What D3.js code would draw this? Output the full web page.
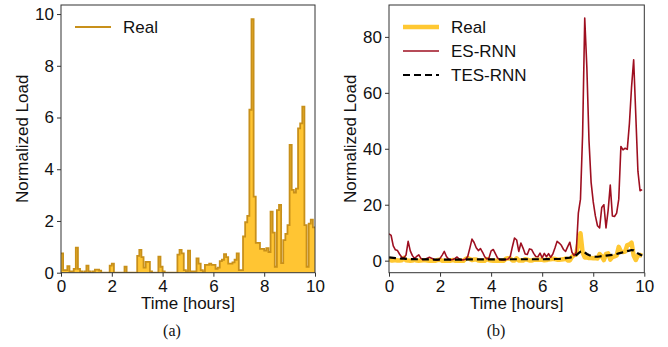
<!DOCTYPE html>
<html>
<head>
<meta charset="utf-8">
<script src="https://cdn.jsdelivr.net/npm/d3@7"></script>
<style>
  body { margin: 0; background: #fff; }
  svg { display: block; }
  .tick text { font-family: "Liberation Sans", Arial, sans-serif; font-size: 17px; fill: #111; }
  .lbl { font-family: "Liberation Sans", Arial, sans-serif; font-size: 17px; fill: #111; }
  .cap { font-family: "Liberation Serif", "Times New Roman", serif; font-size: 16px; fill: #111; }
</style>
</head>
<body>
<svg id="chart" width="668" height="347"></svg>
<script>
const W = 668, H = 347;

// 5-minute samples over 10 hours (index k -> k/12 h)
const REAL = [
  0.75, 0.1, 0.1, 0.25, 0.05, 0.05, 0.15, 0.97, 0.15, 0.05,
  0, 0.05, 0.27, 0.05, 0, 0.05, 0.12, 0.12, 0.08, 0,
  0, 0, 0, 0.27, 0.35, 0, 0, 0, 0, 0,
  0.23, 0, 0, 0, 0, 0, 0.65, 0.88, 0.6, 0.2,
  0.42, 0.42, 0.05, 0, 0, 0, 0.62, 0.23, 0.05, 0,
  0, 0, 0, 0, 0, 0.7, 0.88, 0.75, 0.1, 0.05,
  0.85, 0.05, 0.05, 0.05, 0.55, 0.35, 0.1, 0.05, 0.3, 0.3,
  0.35, 0.3, 0.3, 0.15, 0.2, 0.45, 0.5, 0.72, 0.6, 0.35,
  0.35, 0.4, 0.5, 0.75, 0.1, 0.1, 1.4, 1.95, 2.2, 6.3,
  9.8, 2.94, 1.15, 1.15, 0.92, 0.92, 0.85, 0.95, 0.8, 2.36,
  1.55, 0.23, 2.42, 2.62, 0.37, 1.26, 1.5, 1.84, 4.94, 3.2,
  3.1, 3.25, 5.58, 5.77, 6.42, 1.84, 0.23, 1.9, 2.05, 1.75
];

const ES_RNN = [
  9.6, 9.0, 5.3, 3.9, 3.6, 2.3, 1.2, 1.0, 2.0, 6.9,
  3.5, 1.8, 0.8, 1.5, 2.1, 0.8, 0.3, 0.5, 0.9, 1.2,
  0.9, 0.5, 0.2, 0.3, 0.8, 2.0, 3.3, 1.5, 0.6, 0.3,
  0.4, 0.8, 1.3, 0.6, 0.3, 0.3, 0.5, 1.5, 4.5, 7.7,
  6.5, 4.6, 3.6, 4.3, 3.0, 1.4, 0.6, 1.0, 3.5, 4.0,
  2.5, 1.0, 0.4, 0.3, 0.3, 0.4, 0.6, 1.5, 5.0, 8.1,
  7.4, 3.3, 6.3, 4.5, 2.4, 2.2, 4.2, 4.0, 2.6, 1.5,
  1.4, 2.7, 1.0, 2.6, 1.4, 2.5, 1.2, 2.4, 4.5, 6.9,
  6.3, 5.5, 4.0, 3.3, 5.0, 6.6, 3.0, 1.8, 3.0, 17,
  22, 45, 86.7, 69, 43, 28, 21, 16, 12.5, 11.7,
  19, 20, 11.7, 18, 27, 16, 15.8, 17, 22, 40.8,
  39.6, 40.2, 39.8, 49, 62, 71.8, 52, 32, 25, 25.4
];

const TES_RNN = [
  1.2, 1.1, 1.0, 0.9, 0.8, 0.8, 0.7, 0.7, 0.65, 0.6,
  0.6, 0.55, 0.55, 0.5, 0.5, 0.5, 0.5, 0.45, 0.45, 0.45,
  0.45, 0.4, 0.4, 0.4, 0.4, 0.4, 0.4, 0.4, 0.4, 0.4,
  0.4, 0.4, 0.4, 0.4, 0.4, 0.4, 0.4, 0.45, 0.45, 0.45,
  0.45, 0.45, 0.45, 0.45, 0.45, 0.45, 0.45, 0.45, 0.45, 0.45,
  0.45, 0.45, 0.45, 0.45, 0.45, 0.45, 0.45, 0.5, 0.5, 0.5,
  0.5, 0.5, 0.5, 0.5, 0.5, 0.5, 0.5, 0.5, 0.5, 0.5,
  0.5, 0.5, 0.5, 0.5, 0.55, 0.55, 0.55, 0.55, 0.6, 0.6,
  0.6, 0.7, 0.8, 0.9, 1.0, 1.1, 1.3, 1.6, 2.0, 2.6,
  3.2, 3.4, 3.0, 2.4, 2.0, 1.7, 1.5, 1.4, 1.4, 1.5,
  1.6, 1.7, 1.8, 1.9, 2.0, 2.1, 2.2, 2.4, 2.6, 2.8,
  3.0, 3.2, 3.4, 3.6, 3.8, 3.7, 3.2, 2.6, 2.2, 1.8
];

const X_TICKS = [0, 2, 4, 6, 8, 10];
const Y_TICKS_A = [0, 2, 4, 6, 8, 10];
const Y_TICKS_B = [0, 20, 40, 60, 80];

const TIMES = REAL.map((_d, k) => k / 12);

const GOLD_FILL = "#ffc533";
const GOLD_EDGE = "#c8901a";
const GOLD_LINE = "#ffc832";
const RED = "#9e0f20";

const svg = d3.select("#chart");

function panel(id, box, yDomain, yTicks) {
  const x = d3.scaleLinear().domain([0, 10]).range([box.left, box.right]);
  const y = d3.scaleLinear().domain(yDomain).range([box.bottom, box.top]);

  svg.append("clipPath").attr("id", id)
    .append("rect")
    .attr("x", box.left).attr("y", box.top)
    .attr("width", box.right - box.left).attr("height", box.bottom - box.top);

  const g = svg.append("g").attr("clip-path", `url(#${id})`);

  const xAxis = svg.append("g")
    .attr("transform", `translate(0,${box.bottom})`)
    .call(d3.axisBottom(x).tickValues(X_TICKS).tickSize(4).tickPadding(3).tickFormat(d3.format("d")));
  const yAxis = svg.append("g")
    .attr("transform", `translate(${box.left},0)`)
    .call(d3.axisLeft(y).tickValues(yTicks).tickSize(4).tickPadding(3).tickFormat(d3.format("d")));
  [xAxis, yAxis].forEach((a) => {
    a.select(".domain").remove();
    a.selectAll(".tick line").attr("stroke", "#333");
  });

  svg.append("rect")
    .attr("x", box.left).attr("y", box.top)
    .attr("width", box.right - box.left).attr("height", box.bottom - box.top)
    .attr("fill", "none").attr("stroke", "#333").attr("stroke-width", 1);

  const cx = (box.left + box.right) / 2;
  svg.append("text").attr("class", "lbl")
    .attr("x", cx).attr("y", 309)
    .attr("text-anchor", "middle")
    .text("Time [hours]");
  svg.append("text").attr("class", "lbl")
    .attr("transform", `translate(${box.left - 33},${(box.top + box.bottom) / 2}) rotate(-90)`)
    .attr("text-anchor", "middle")
    .text("Normalized Load");

  return { x, y, g };
}

// (a) step-filled real load
const A = panel("clipA", { left: 61, right: 315, top: 5, bottom: 272.7 }, [0, 10.35], Y_TICKS_A);
const stepPts = TIMES.map((t, k) => [t, REAL[k]]).concat([[10, REAL[REAL.length - 1]]]);

A.g.append("path")
  .datum(stepPts)
  .attr("fill", GOLD_FILL)
  .attr("d", d3.area().curve(d3.curveStepAfter)
    .x((d) => A.x(d[0])).y0(A.y(0)).y1((d) => A.y(d[1])));
A.g.append("path")
  .datum(stepPts)
  .attr("fill", "none")
  .attr("stroke", GOLD_EDGE)
  .attr("stroke-width", 1.8)
  .attr("d", d3.line().curve(d3.curveStepAfter)
    .x((d) => A.x(d[0])).y((d) => A.y(d[1])));

// (b) forecasts
const B = panel("clipB", { left: 389, right: 644.3, top: 5, bottom: 272.7 }, [-4.3, 91.4], Y_TICKS_B);
const lineB = (vals) => d3.line()
  .x((_d, k) => B.x(TIMES[k]))
  .y((d) => B.y(d))(vals);

B.g.append("path").attr("d", lineB(REAL))
  .attr("fill", "none").attr("stroke", GOLD_LINE).attr("stroke-width", 4.5)
  .attr("stroke-linejoin", "round");
B.g.append("path").attr("d", lineB(ES_RNN))
  .attr("fill", "none").attr("stroke", RED).attr("stroke-width", 1.6)
  .attr("stroke-linejoin", "round");
B.g.append("path").attr("d", lineB(TES_RNN))
  .attr("fill", "none").attr("stroke", "#000").attr("stroke-width", 2.2)
  .attr("stroke-dasharray", "7,4");

// legends
function legend(items, x0, y0) {
  items.forEach((it, i) => {
    const yy = y0 + i * 24;
    svg.append("line")
      .attr("x1", x0).attr("x2", x0 + 36).attr("y1", yy).attr("y2", yy)
      .attr("stroke", it.color).attr("stroke-width", it.width)
      .attr("stroke-dasharray", it.dash || null);
    svg.append("text").attr("class", "lbl")
      .attr("x", x0 + 48).attr("y", yy).attr("dy", "0.35em")
      .text(it.name);
  });
}
legend([{ name: "Real", color: GOLD_EDGE, width: 1.8 }], 75, 27);
legend([
  { name: "Real", color: GOLD_LINE, width: 4.5 },
  { name: "ES-RNN", color: RED, width: 1.6 },
  { name: "TES-RNN", color: "#000", width: 2.2, dash: "7,4" }
], 403, 27);

svg.append("text").attr("class", "cap").attr("x", 172).attr("y", 336).attr("text-anchor", "middle").text("(a)");
svg.append("text").attr("class", "cap").attr("x", 496).attr("y", 336).attr("text-anchor", "middle").text("(b)");
</script>
</body>
</html>
